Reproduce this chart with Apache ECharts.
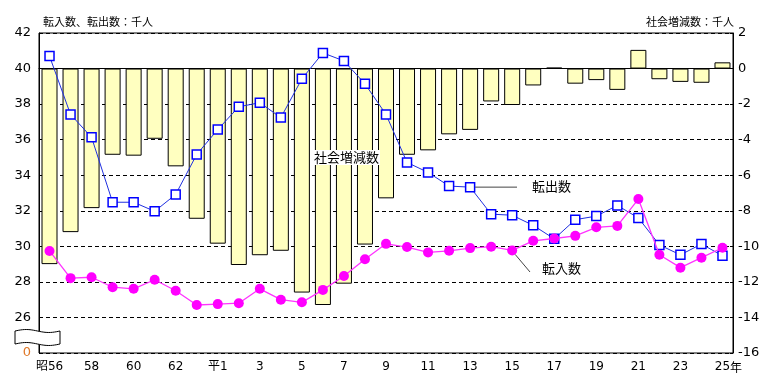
<!DOCTYPE html>
<html>
<head>
<meta charset="utf-8">
<script src="https://cdn.jsdelivr.net/npm/echarts@6/dist/echarts.min.js"></script>
<style>
html,body{margin:0;padding:0;background:#fff;}
#main{width:779px;height:388px;}
</style>
</head>
<body>
<div id="main"></div>
<script>
// Categories (years)
var categories = ['昭56','57','58','59','60','61','62','63','平1','2','3','4','5','6','7','8','9','10','11','12','13','14','15','16','17','18','19','20','21','22','23','24','25'];
// 社会増減数 (thousand persons, right axis)
var socialChange = [-11.0,-9.2,-7.85,-4.85,-4.9,-3.95,-5.5,-8.45,-9.85,-11.05,-10.5,-10.25,-12.6,-13.3,-12.1,-9.9,-7.3,-4.85,-4.6,-3.7,-3.45,-1.85,-2.05,-0.95,0.05,-0.85,-0.65,-1.2,1.05,-0.6,-0.75,-0.8,0.35];
// 転出数 (thousand persons, left axis)
var outMoves = [40.7,37.42,36.13,32.48,32.48,31.97,32.92,35.17,36.57,37.85,38.08,37.24,39.42,40.88,40.43,39.14,37.42,34.72,34.16,33.39,33.33,31.81,31.75,31.18,30.42,31.5,31.7,32.3,31.6,30.08,29.52,30.13,29.47];
// 転入数 (thousand persons, left axis)
var inMoves = [29.74,28.21,28.26,27.7,27.61,28.12,27.5,26.7,26.75,26.8,27.61,27.0,26.85,27.55,28.33,29.27,30.14,29.96,29.66,29.75,29.9,29.98,29.77,30.31,30.44,30.59,31.07,31.15,32.66,29.53,28.8,29.36,29.92];
// axis ticks
var leftTicks = {min: 24, max: 42, interval: 2};
var rightTicks = {min: -16, max: 2, interval: 2};

var numFont = 'DejaVu Sans, Noto Sans CJK JP, sans-serif';
var cjkFont = 'Noto Sans CJK JP, sans-serif';

var chart = echarts.init(document.getElementById('main'), null, {renderer: 'canvas'});

var option = {
  animation: false,
  backgroundColor: '#fff',
  grid: {left: 39, right: 46, top: 33, bottom: 35, show: true, borderColor: '#000', borderWidth: 1, backgroundColor: 'transparent'},
  xAxis: {
    type: 'category',
    data: categories,
    boundaryGap: true,
    axisLine: {lineStyle: {color: '#000', width: 1}},
    axisTick: {inside: true, length: 4, interval: 0, lineStyle: {color: '#000'}},
    axisLabel: {
      interval: 1, margin: 8, color: '#000', fontSize: 12, fontFamily: numFont,
      formatter: function (v, i) {
        if (i === categories.length - 1) return '{sp|}' + v + '{y|年}';
        return v;
      },
      rich: {
        sp: {width: 12, fontSize: 12},
        y: {fontSize: 12, fontFamily: cjkFont, color: '#000'}
      }
    },
    splitLine: {show: false}
  },
  yAxis: [
    {
      type: 'value', position: 'left',
      min: leftTicks.min, max: leftTicks.max, interval: leftTicks.interval,
      axisLine: {show: true, lineStyle: {color: '#000'}},
      axisTick: {show: true, inside: true, length: 3, lineStyle: {color: '#000'}},
      axisLabel: {
        margin: 8, color: '#000', fontSize: 13, fontFamily: numFont,
        formatter: function (v) { return v === leftTicks.min ? '{o|0}' : String(v); },
        rich: {o: {color: '#E07828', fontSize: 13, fontFamily: numFont}}
      },
      splitLine: {show: true, lineStyle: {color: '#000', type: [4, 3], width: 1}}
    },
    {
      type: 'value', position: 'right',
      min: rightTicks.min, max: rightTicks.max, interval: rightTicks.interval,
      axisLine: {show: true, lineStyle: {color: '#000'}},
      axisTick: {show: true, inside: true, length: 3, lineStyle: {color: '#000'}},
      axisLabel: {margin: 5, color: '#000', fontSize: 13, fontFamily: numFont},
      splitLine: {show: false}
    }
  ],
  series: [
    {
      name: '社会増減数', type: 'bar', yAxisIndex: 1, data: socialChange,
      barWidth: 16,
      itemStyle: {color: '#FFFFC0', borderColor: '#000', borderWidth: 1},
      z: 2
    },
    {
      name: '転出数', type: 'line', yAxisIndex: 0, data: outMoves,
      symbol: 'rect', symbolSize: 9, showAllSymbol: true,
      lineStyle: {color: '#2030E0', width: 1},
      itemStyle: {color: '#fff', borderColor: '#0000FF', borderWidth: 1.5},
      z: 3
    },
    {
      name: '転入数', type: 'line', yAxisIndex: 0, data: inMoves,
      symbol: 'circle', symbolSize: 10, showAllSymbol: true,
      lineStyle: {color: '#FF33FF', width: 1.3},
      itemStyle: {color: '#FF00FF', borderColor: '#FF00FF', borderWidth: 0},
      z: 4
    }
  ]
};
chart.setOption(option);

// annotations
function wavy(x0, x1, yTop, yBot, amp) {
  var pts = [];
  var n = 24, i, t;
  for (i = 0; i <= n; i++) { t = i / n; pts.push([x0 + (x1 - x0) * t, yTop - amp * Math.sin(t * 2 * Math.PI)]); }
  for (i = n; i >= 0; i--) { t = i / n; pts.push([x0 + (x1 - x0) * t, yBot - amp * Math.sin(t * 2 * Math.PI)]); }
  return pts;
}
var pOut = chart.convertToPixel({seriesIndex: 1}, [20, outMoves[20]]);
var pIn = chart.convertToPixel({seriesIndex: 2}, [22, inMoves[22]]);

chart.setOption({
  graphic: [
    {type: 'text', left: 43, top: 16, style: {text: '転入数、転出数：千人', font: '11px ' + cjkFont, fill: '#000'}},
    {type: 'text', right: 45, top: 16, style: {text: '社会増減数：千人', font: '11px ' + cjkFont, fill: '#000'}},
    {type: 'polygon', shape: {points: wavy(15, 60, 331, 344, 1.5)}, style: {fill: '#fff', stroke: '#000', lineWidth: 1}, z: 100},
    {type: 'text', x: 313, y: 150, z: 50, style: {text: '社会増減数', font: '13px ' + cjkFont, fill: '#000', backgroundColor: '#fff', padding: [1, 1]}},
    {type: 'line', z: 50, shape: {x1: pOut[0] + 5, y1: pOut[1], x2: 517, y2: pOut[1]}, style: {stroke: '#444', lineWidth: 1}},
    {type: 'text', x: 532, y: pOut[1] - 8, z: 50, style: {text: '転出数', font: '13px ' + cjkFont, fill: '#000'}},
    {type: 'line', z: 50, shape: {x1: pIn[0] + 3, y1: pIn[1] + 4, x2: 530, y2: 272}, style: {stroke: '#444', lineWidth: 1}},
    {type: 'text', x: 542, y: 262, z: 50, style: {text: '転入数', font: '13px ' + cjkFont, fill: '#000'}}
  ]
});
</script>
</body>
</html>
